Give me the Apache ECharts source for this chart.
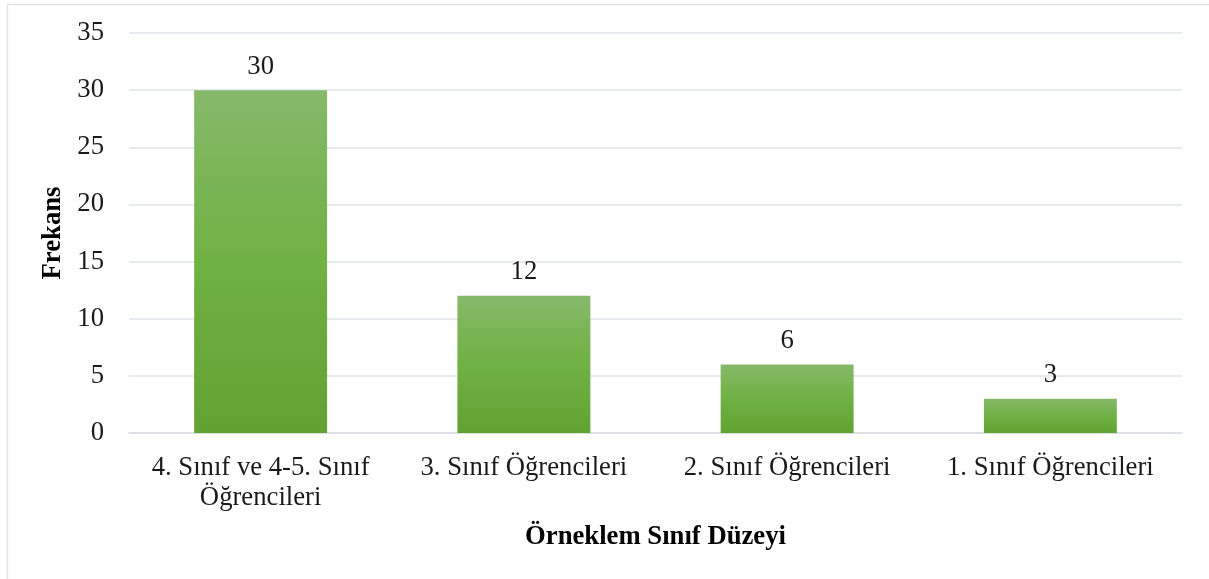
<!DOCTYPE html>
<html><head><meta charset="utf-8">
<script src="https://cdn.jsdelivr.net/npm/echarts@6/dist/echarts.min.js"></script>
<style>html,body{margin:0;padding:0;background:#fff}#c{width:1209px;height:579px}</style>
</head><body><div id="c"></div>
<script>
const categories = ['4. Sınıf ve 4-5. Sınıf\nÖğrencileri', '3. Sınıf Öğrencileri', '2. Sınıf Öğrencileri', '1. Sınıf Öğrencileri'];
const values = [30, 12, 6, 3];
const yTicks = [0, 5, 10, 15, 20, 25, 30, 35];
const xTitle = 'Örneklem Sınıf Düzeyi';
const yTitle = 'Frekans';

const font = '"Liberation Serif", "Times New Roman", serif';
const fs = 26.7;
const chart = echarts.init(document.getElementById('c'));
chart.setOption({
  backgroundColor: '#fff',
  animation: false,
  textStyle: { fontFamily: font },
  graphic: [{
    type: 'rect', silent: true, z: -1,
    shape: { x: 7.5, y: 4.5, width: 1220, height: 600 },
    style: { fill: 'none', stroke: '#dfe3ea', lineWidth: 1.5 }
  }],
  grid: { left: 129, right: 27, top: 33, bottom: 146, containLabel: false },
  xAxis: {
    type: 'category', data: categories,
    name: xTitle, nameLocation: 'middle', nameGap: 91,
    nameTextStyle: { fontFamily: font, fontSize: fs, fontWeight: 'bold', color: '#000' },
    axisLine: { lineStyle: { color: '#d9dde5', width: 1.5 } },
    axisTick: { show: false },
    axisLabel: { fontFamily: font, fontSize: fs, color: '#1a1a1a', margin: 20, lineHeight: 30, interval: 0 }
  },
  yAxis: {
    type: 'value', min: yTicks[0], max: yTicks[yTicks.length - 1], interval: 5,
    name: yTitle, nameLocation: 'middle', nameGap: 56,
    nameTextStyle: { fontFamily: font, fontSize: fs, fontWeight: 'bold', color: '#000' },
    axisLine: { show: false }, axisTick: { show: false },
    axisLabel: { fontFamily: font, fontSize: fs, color: '#1a1a1a', margin: 25 },
    splitLine: { lineStyle: { color: '#dfe3ea', width: 1.5 } }
  },
  series: [{
    type: 'bar', data: values, barWidth: '50.5%',
    itemStyle: {
      color: new echarts.graphic.LinearGradient(0, 0, 0, 1, [
        { offset: 0, color: '#86b96a' },
        { offset: 0.5, color: '#70b143' },
        { offset: 1, color: '#62a233' }
      ])
    },
    label: { show: true, position: 'top', distance: 10, fontFamily: font, fontSize: fs, color: '#1a1a1a' }
  }]
});
</script></body></html>
